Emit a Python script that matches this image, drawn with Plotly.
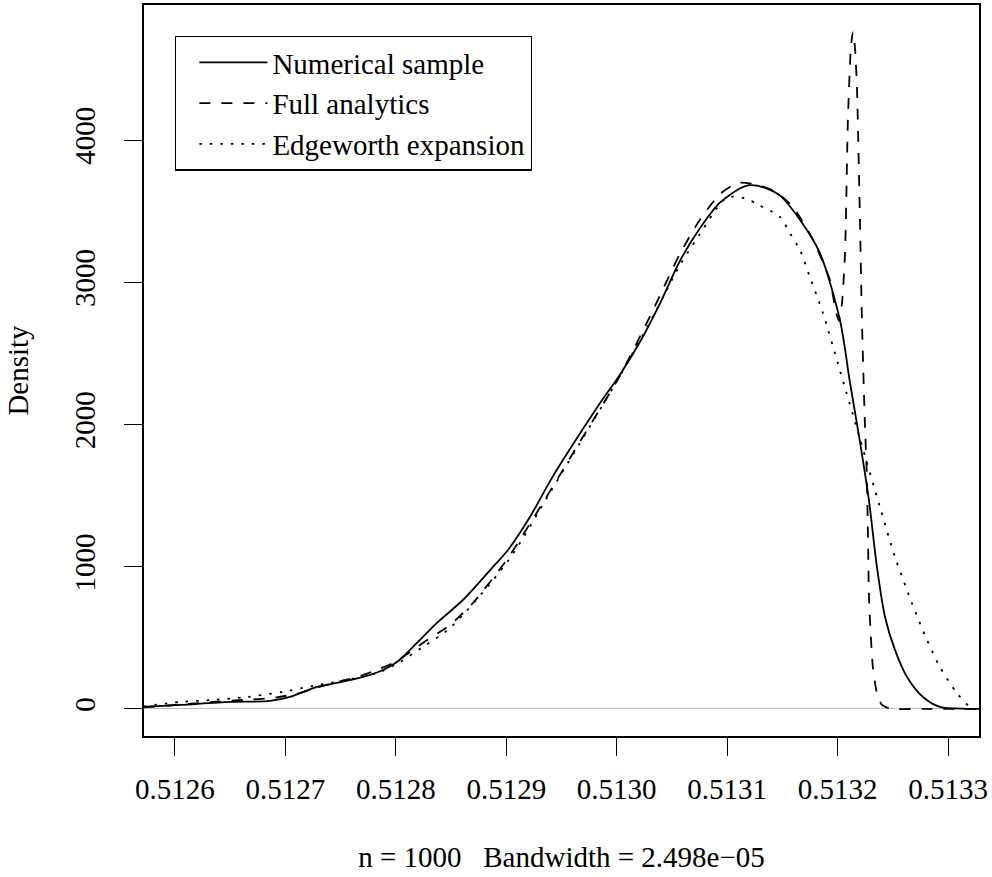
import plotly.graph_objects as go

# ---- data ----
x_num = [0.5125711, 0.5126050, 0.5126497, 0.5126861, 0.5127042, 0.5127285, 0.5127466,
         0.5127702, 0.5127883, 0.5128010, 0.5128191, 0.5128372, 0.5128607, 0.5128852,
         0.5129015, 0.5129214, 0.5129395, 0.5129513, 0.5129848, 0.5130020, 0.5130210,
         0.5130391, 0.5130572, 0.5130753, 0.5130934, 0.5131115, 0.5131206, 0.5131342,
         0.5131478, 0.5131659, 0.5131840, 0.5132021, 0.5132111, 0.5132202, 0.5132283,
         0.5132356, 0.5132429, 0.5132519, 0.5132628, 0.5132773, 0.5132926, 0.5133171,
         0.5133333]
y_num = [14, 28, 49, 56, 84, 155, 183,
         225, 274, 330, 464, 605, 766, 975,
         1118, 1350, 1600, 1750, 2150, 2340, 2580,
         2850, 3150, 3380, 3560, 3660, 3684, 3665,
         3610, 3440, 3205, 2735, 2300, 1880, 1470,
         998, 647, 415, 225, 84, 14, 1,
         0]

x_full = [0.5125719, 0.5125892, 0.5126344, 0.5126616, 0.5126887, 0.5127132, 0.5127340,
          0.5127647, 0.5127829, 0.5128010, 0.5128245, 0.5128490, 0.5128698, 0.5129015,
          0.5129395, 0.5129667, 0.5130020, 0.5130301, 0.5130572, 0.5130753, 0.5130934,
          0.5131098, 0.5131252, 0.5131433, 0.5131595, 0.5131776, 0.5131930, 0.5131985,
          0.5132012, 0.5132039, 0.5132067, 0.5132093, 0.5132120, 0.5132138, 0.5132157,
          0.5132175, 0.5132202, 0.5132220, 0.5132248, 0.5132262, 0.5132273, 0.5132285,
          0.5132319, 0.5132356, 0.5132401, 0.5132473, 0.5132776, 0.5133333]
y_full = [12, 21, 49, 63, 77, 112, 162,
          225, 274, 337, 464, 590, 745, 1060,
          1530, 1880, 2330, 2760, 3200, 3440, 3620,
          3700, 3690, 3640, 3530, 3300, 3016, 2790,
          2730, 2850, 3205, 4140, 4650, 4760, 4650,
          4370, 3440, 2735, 1980, 1700, 1300, 766,
          295, 112, 28, 3, 0, 0]

x_edge = [0.5125719, 0.5126050, 0.5126344, 0.5126652, 0.5126978, 0.5127250, 0.5127557,
          0.5127856, 0.5128037, 0.5128245, 0.5128490, 0.5129015, 0.5129395, 0.5129667,
          0.5130020, 0.5130301, 0.5130572, 0.5130753, 0.5130934, 0.5131007, 0.5131160,
          0.5131296, 0.5131478, 0.5131568, 0.5131659, 0.5131749, 0.5131867, 0.5132021,
          0.5132202, 0.5132383, 0.5132519, 0.5132672, 0.5132809, 0.5132926, 0.5133080,
          0.5133198, 0.5133243]
y_edge = [18, 49, 63, 84, 120, 162, 204,
          260, 330, 436, 569, 1040, 1520, 1870,
          2330, 2720, 3120, 3340, 3550, 3600, 3590,
          3540, 3460, 3346, 3227, 3037, 2784, 2380,
          1900, 1420, 1070, 745, 485, 295, 112,
          14, 2]

series_names = ["Numerical sample", "Full analytics", "Edgeworth expansion"]
x_ticks = [0.5126, 0.5127, 0.5128, 0.5129, 0.5130, 0.5131, 0.5132, 0.5133]
x_ticktext = ["0.5126", "0.5127", "0.5128", "0.5129", "0.5130", "0.5131", "0.5132", "0.5133"]
y_ticks = [0, 1000, 2000, 3000, 4000]
y_ticktext = ["0", "1000", "2000", "3000", "4000"]
x_label = "n = 1000\u00a0\u00a0\u00a0Bandwidth = 2.498e\u221205"
y_label = "Density"
x_limits = [0.5125720, 0.5133280]
y_limits = [-190.4, 4950.4]

FONT = "Liberation Serif, Times New Roman, serif"

fig = go.Figure()
fig.add_trace(go.Scatter(x=x_num, y=y_num, mode="lines", name=series_names[0],
                         line=dict(color="black", width=1.8, shape="spline", smoothing=0.8)))
fig.add_trace(go.Scatter(x=x_full, y=y_full, mode="lines", name=series_names[1],
                         line=dict(color="black", width=1.8, dash="11px,11px",
                                   shape="spline", smoothing=0.6)))
fig.add_trace(go.Scatter(x=x_edge, y=y_edge, mode="lines", name=series_names[2],
                         line=dict(color="black", width=1.8, dash="2.5px,8px",
                                   shape="spline", smoothing=0.8)))

axis_common = dict(showline=True, mirror=True, linecolor="black", linewidth=1.6,
                   ticks="outside", ticklen=18, tickwidth=1.4, tickcolor="black",
                   showgrid=False, automargin=False,
                   tickfont=dict(family=FONT, size=29, color="black"))

fig.update_layout(
    width=992, height=877,
    paper_bgcolor="white", plot_bgcolor="white",
    margin=dict(l=144, r=13, t=5, b=141),
    font=dict(family=FONT, size=29, color="black"),
    xaxis=dict(range=x_limits, tickvals=x_ticks, ticktext=x_ticktext,
               zeroline=False, ticklabelstandoff=8,
               title=dict(text=x_label, font=dict(family=FONT, size=29), standoff=43),
               **axis_common),
    yaxis=dict(range=y_limits, tickvals=y_ticks, ticktext=y_ticktext,
               tickangle=-90, zeroline=True, zerolinecolor="#BEBEBE", zerolinewidth=1,
               ticklabelstandoff=18,
               title=dict(text=y_label, font=dict(family=FONT, size=29), standoff=31),
               **axis_common),
    showlegend=True,
    legend=dict(x=0.0371, y=0.958, xanchor="left", yanchor="top",
                bgcolor="white", bordercolor="black", borderwidth=1.4,
                font=dict(family=FONT, size=29, color="black"),
                indentation=18, itemwidth=68, tracegroupgap=0),
)

fig.write_html("out.html", config={"displayModeBar": False},
               post_script="document.body.style.margin='0';document.body.style.overflow='hidden';")
